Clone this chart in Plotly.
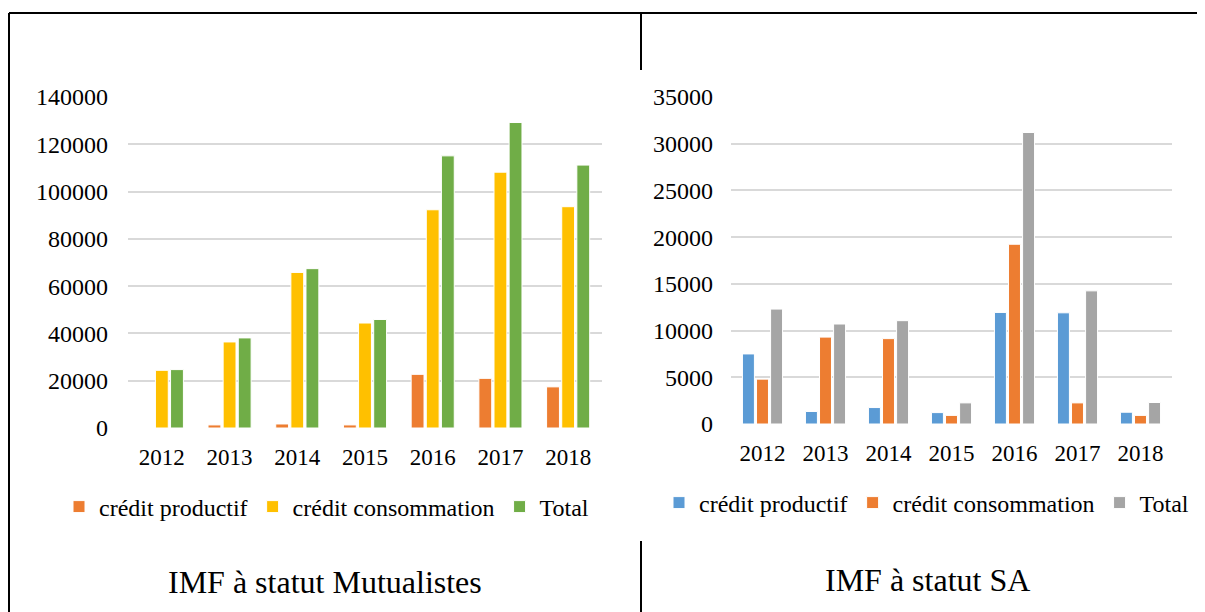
import plotly.graph_objects as go

years = ['2012', '2013', '2014', '2015', '2016', '2017', '2018']

# IMF à statut Mutualistes
mut_productif = [0, 1300, 1700, 1300, 22700, 21000, 17400]
mut_consommation = [24400, 36400, 65800, 44400, 92300, 108200, 93600]
mut_total = [24700, 38100, 67400, 45900, 115100, 129200, 111200]

# IMF à statut SA
sa_productif = [7500, 1340, 1760, 1220, 11940, 11900, 1260]
sa_consommation = [4800, 9300, 9140, 920, 19240, 2260, 920]
sa_total = [12300, 10700, 11060, 2260, 31200, 14250, 2300]

W, H = 1205, 612
OFF = 8  # page body margin


def px(x):
    return (x - OFF) / W


def py(y):
    return 1 - (y - OFF) / H


font_family = 'Liberation Serif, Times New Roman, serif'
grid_color = '#D9D9D9'

fig = go.Figure()

left = [('crédit productif', mut_productif, '#ED7D31'),
        ('crédit consommation', mut_consommation, '#FFC000'),
        ('Total', mut_total, '#70AD47')]
right = [('crédit productif', sa_productif, '#5B9BD5'),
         ('crédit consommation', sa_consommation, '#ED7D31'),
         ('Total', sa_total, '#A5A5A5')]

for name, vals, color in left:
    fig.add_trace(go.Bar(x=years, y=vals, name=name, xaxis='x', yaxis='y', legend='legend',
                         marker=dict(color=color, line=dict(color='white', width=1))))
for name, vals, color in right:
    fig.add_trace(go.Bar(x=years, y=vals, name=name, xaxis='x2', yaxis='y2', legend='legend2',
                         marker=dict(color=color, line=dict(color='white', width=1))))

axis_font = dict(family=font_family, size=23, color='black')
xcommon = dict(type='category', showgrid=False, showline=False, zeroline=False, automargin=False,
               tickfont=axis_font, ticks='', ticklabelstandoff=13, fixedrange=True)
ycommon = dict(showgrid=True, gridcolor=grid_color, gridwidth=1.5, zeroline=False, automargin=False,
               showline=False, tickfont=dict(family=font_family, size=24, color='black'),
               ticks='', fixedrange=True)

legend_common = dict(orientation='h', yanchor='middle', xanchor='left',
                     font=dict(family=font_family, size=24, color='black'),
                     bgcolor='rgba(0,0,0,0)', itemclick=False, itemdoubleclick=False)

fig.update_layout(
    width=W, height=H, autosize=False,
    margin=dict(l=0, r=0, t=0, b=0, pad=0),
    paper_bgcolor='white', plot_bgcolor='white',
    barmode='group', bargap=0.33, bargroupgap=0.15,
    xaxis=dict(domain=[px(128), px(602)], anchor='y', **xcommon),
    yaxis=dict(domain=[py(428), py(97)], anchor='x', range=[0, 140000],
               tickvals=[0, 20000, 40000, 60000, 80000, 100000, 120000, 140000],
               ticktext=['0', '20000', '40000', '60000', '80000', '100000', '120000', '140000'],
               ticklabelstandoff=19, **ycommon),
    xaxis2=dict(domain=[px(731), px(1172)], anchor='y2', **xcommon),
    yaxis2=dict(domain=[py(424), py(97)], anchor='x2', range=[0, 35000],
                tickvals=[0, 5000, 10000, 15000, 20000, 25000, 30000, 35000],
                ticktext=['0', '5000', '10000', '15000', '20000', '25000', '30000', '35000'],
                ticklabelstandoff=17, **ycommon),
    legend=dict(x=px(59), y=py(507), **legend_common),
    legend2=dict(x=px(659), y=py(503), **legend_common),
)

fig.add_annotation(text='IMF à statut Mutualistes', xref='paper', yref='paper',
                   x=px(325), y=py(582), xanchor='center', yanchor='middle', showarrow=False,
                   font=dict(family=font_family, size=32, color='black'))
fig.add_annotation(text='IMF à statut SA', xref='paper', yref='paper',
                   x=px(928), y=py(580), xanchor='center', yanchor='middle', showarrow=False,
                   font=dict(family=font_family, size=32, color='black'))

# table borders around the two charts
border = dict(color='black', width=2)
fig.add_shape(type='line', xref='paper', yref='paper', x0=px(9), x1=1, y0=py(13), y1=py(13), line=border)
fig.add_shape(type='line', xref='paper', yref='paper', x0=px(9), x1=px(9), y0=py(13), y1=0, line=border)
fig.add_shape(type='line', xref='paper', yref='paper', x0=px(641), x1=px(641), y0=py(13), y1=py(70), line=border)
fig.add_shape(type='line', xref='paper', yref='paper', x0=px(641), x1=px(641), y0=py(541), y1=0, line=border)

fig.write_html('out.html', config={'displayModeBar': False})
